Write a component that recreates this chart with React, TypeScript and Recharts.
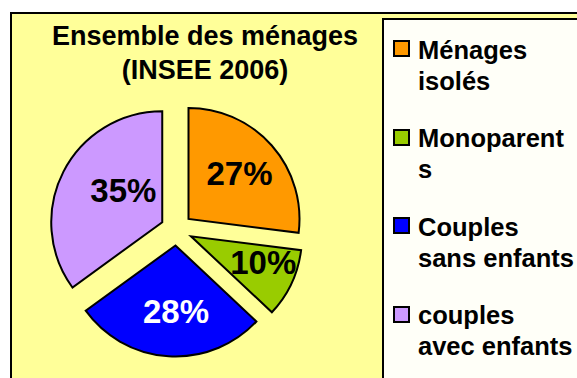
import { PieChart, Pie, Cell } from 'recharts';

// household structure, INSEE 2006
const categories = ['Ménages isolés', 'Monoparents', 'Couples sans enfants', 'couples avec enfants'];
const shares = [27, 10, 28, 35];
const sliceColors = ['#FF9900', '#99CC00', '#0000FF', '#CC99FF'];
const labelColors = ['#000000', '#000000', '#FFFFFF', '#000000'];
const legendLines = [
  ['Ménages', 'isolés'],
  ['Monoparent', 's'],
  ['Couples', 'sans enfants'],
  ['couples', 'avec enfants'],
];

const FONT = '"Liberation Sans", Arial, Helvetica, sans-serif';
const CX = 176.5;
const CY = 229.5;
const RADIUS = 111;
const EXPLODE = 16;
// label distance from each slice's own centre, and a small angular nudge (deg, clockwise)
const labelDist = [68, 77, 66, 50];
const labelNudge = [0, -5, -4, 12];

const pieData = categories.map((name, i) => ({ name, value: shares[i] }));
const total = shares.reduce((a, b) => a + b, 0);

// offset of each exploded slice along its mid-angle (clockwise from 12 o'clock)
const sliceOffsets = shares.map((v, i) => {
  const before = shares.slice(0, i).reduce((a, b) => a + b, 0);
  const mid = ((before + v / 2) / total) * 2 * Math.PI;
  return { dx: Math.sin(mid) * EXPLODE, dy: -Math.cos(mid) * EXPLODE };
});

const makeLabel = (slice: number) => (props: any) => {
  const { cx, cy, midAngle, index, value } = props;
  if (index !== slice) return null;
  const a = ((90 - midAngle + labelNudge[slice]) * Math.PI) / 180;
  const x = cx + Math.sin(a) * labelDist[slice];
  const y = cy - Math.cos(a) * labelDist[slice];
  return (
    <text
      x={x}
      y={y}
      fill={labelColors[slice]}
      textAnchor="middle"
      dominantBaseline="central"
      style={{ fontFamily: FONT, fontSize: 33, fontWeight: 'bold' }}
    >
      {value}%
    </text>
  );
};

export default function App() {
  return (
    <div
      style={{
        position: 'fixed',
        left: 0,
        top: 0,
        width: 577,
        height: 378,
        overflow: 'hidden',
        background: '#FFFFFF',
        fontFamily: FONT,
      }}
    >
      {/* chart area */}
      <div
        style={{
          position: 'absolute',
          left: 10,
          top: 12,
          width: 600,
          height: 400,
          background: '#FFFF99',
          border: '2px solid #000',
        }}
      />
      {/* legend frame */}
      <div
        style={{
          position: 'absolute',
          left: 382,
          top: 18,
          width: 240,
          height: 400,
          background: '#FFFFF8',
          border: '2px solid #000',
        }}
      />

      <div
        style={{
          position: 'absolute',
          left: 35,
          top: 18.5,
          width: 340,
          textAlign: 'center',
          fontSize: 27,
          fontWeight: 'bold',
          lineHeight: '34px',
          color: '#000',
        }}
      >
        Ensemble des ménages
        <br />
        (INSEE 2006)
      </div>

      <PieChart
        width={577}
        height={378}
        margin={{ top: 0, right: 0, bottom: 0, left: 0 }}
        style={{ position: 'absolute', left: 0, top: 0 }}
      >
        {sliceOffsets.map((off, i) => (
          <Pie
            key={categories[i]}
            data={pieData}
            dataKey="value"
            nameKey="name"
            cx={CX + off.dx}
            cy={CY + off.dy}
            outerRadius={RADIUS}
            startAngle={90}
            endAngle={-270}
            labelLine={false}
            label={makeLabel(i)}
            isAnimationActive={false}
          >
            {pieData.map((_, j) => (
              <Cell
                key={j}
                fill={j === i ? sliceColors[j] : 'none'}
                stroke={j === i ? '#000000' : 'none'}
                strokeWidth={2}
              />
            ))}
          </Pie>
        ))}
      </PieChart>

      {legendLines.map((lines, i) => (
        <div
          key={categories[i]}
          style={{
            position: 'absolute',
            left: 393,
            top: 34.5 + i * 88.5,
            display: 'flex',
            alignItems: 'flex-start',
          }}
        >
          <div
            style={{
              width: 13,
              height: 13,
              marginTop: 5.5,
              background: sliceColors[i],
              border: '2px solid #000',
            }}
          />
          <div
            style={{
              marginLeft: 8,
              fontSize: 25.5,
              fontWeight: 'bold',
              lineHeight: '31px',
              whiteSpace: 'nowrap',
              color: '#000',
            }}
          >
            {lines[0]}
            <br />
            {lines[1]}
          </div>
        </div>
      ))}
    </div>
  );
}
